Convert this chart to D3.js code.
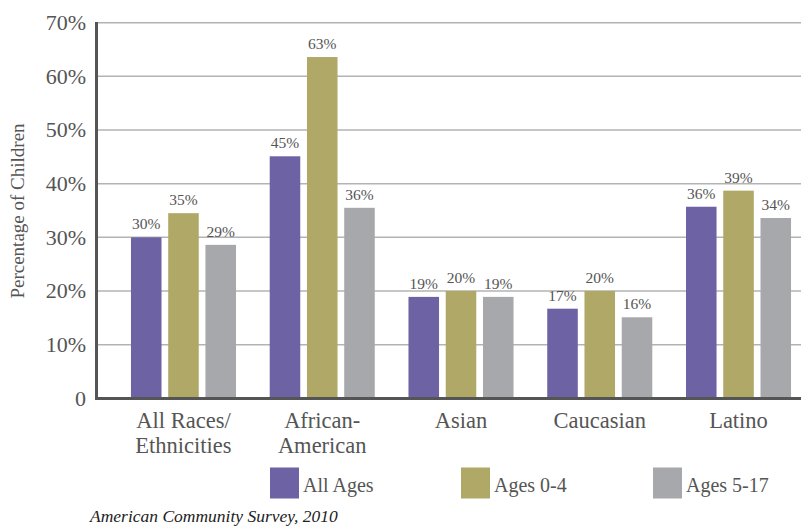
<!DOCTYPE html>
<html><head><meta charset="utf-8">
<script src="https://cdn.jsdelivr.net/npm/d3@7"></script>
<style>body{margin:0;background:#fff}svg{display:block}</style>
</head><body>
<svg id="c" width="801" height="527"></svg>
<script>
const categories = [["All Races/","Ethnicities"],["African-","American"],["Asian"],["Caucasian"],["Latino"]];
const series = ["All Ages","Ages 0-4","Ages 5-17"];
const allAges  = [30, 45.1, 18.9, 16.7, 35.7];
const ages0to4 = [34.5, 63.6, 20, 20, 38.7];
const ages5to17 = [28.6, 35.5, 18.9, 15.1, 33.6];
const labelsAll = ["30%","45%","19%","17%","36%"];
const labels04 = ["35%","63%","20%","20%","39%"];
const labels517 = ["29%","36%","19%","16%","34%"];
const yTicks = [0,10,20,30,40,50,60,70];
const colors = ["#6c62a4","#b0a867","#a7a8ab"];

const values = [allAges, ages0to4, ages5to17];
const labels = [labelsAll, labels04, labels517];
const catKeys = categories.map(c => c.join(" "));
const FONT = "Liberation Serif, DejaVu Serif, serif";

const svg = d3.select("#c");
const y = d3.scaleLinear().domain([0,70]).range([398.3,22.7]);
const x0 = d3.scaleBand().domain(catKeys).range([114.1,807.9]).paddingInner(0.243).paddingOuter(0.1215);
const x1 = d3.scaleBand().domain(series).range([0,x0.bandwidth()]).paddingInner(0.18);

function txt(sel){ return sel.style("font-family",FONT).attr("fill","#555"); }

// gridlines
svg.append("g").selectAll("line").data(yTicks.filter(d=>d>0)).join("line")
  .attr("x1",97).attr("x2",801).attr("y1",d=>y(d)).attr("y2",d=>y(d))
  .attr("stroke","#b3b3b3").attr("stroke-width",1.5);

// y tick labels
txt(svg.append("g").selectAll("text").data(yTicks).join("text"))
  .attr("x",86).attr("y",d=>y(d)).attr("dy","0.33em").attr("text-anchor","end")
  .attr("font-size",22).text(d=>d===0?"0":d+"%");

// bars
const groups = svg.append("g").selectAll("g").data(catKeys).join("g")
  .attr("transform",d=>`translate(${x0(d)},0)`);
groups.each(function(cat,i){
  const g = d3.select(this);
  series.forEach((s,j)=>{
    const v = values[j][i];
    g.append("rect").attr("x",x1(s)).attr("width",x1.bandwidth())
      .attr("y",y(v)).attr("height",y(0)-y(v)).attr("fill",colors[j]);
    txt(g.append("text")).attr("x",x1(s)+x1.bandwidth()/2).attr("y",y(v)-8)
      .attr("text-anchor","middle").attr("font-size",15.5).text(labels[j][i]);
  });
});

// axes lines
svg.append("line").attr("x1",96.5).attr("x2",96.5).attr("y1",22).attr("y2",400)
  .attr("stroke","#555").attr("stroke-width",3);
svg.append("line").attr("x1",95).attr("x2",801).attr("y1",398.5).attr("y2",398.5)
  .attr("stroke","#555").attr("stroke-width",3);

// category labels
categories.forEach((c,i)=>{
  const cx = x0(catKeys[i])+x0.bandwidth()/2;
  const t = txt(svg.append("text")).attr("text-anchor","middle")
    .attr("x",cx).attr("y",428).attr("font-size",22.5);
  c.forEach((line,k)=>t.append("tspan").attr("x",cx).attr("dy",k?25:0).text(line));
});

// y title
txt(svg.append("text")).attr("transform","translate(24,211) rotate(-90)").attr("text-anchor","middle")
  .attr("font-size",19).text("Percentage of Children");

// legend
const legX = [270,461,653];
series.forEach((s,j)=>{
  svg.append("rect").attr("x",legX[j]).attr("y",467.5).attr("width",29).attr("height",31).attr("fill",colors[j]);
  txt(svg.append("text")).attr("x",legX[j]+33).attr("y",491.5).attr("font-size",20).text(s);
});

// source
txt(svg.append("text")).attr("x",90).attr("y",521.5).attr("font-size",17.5).attr("font-style","italic")
  .attr("fill","#222").text("American Community Survey, 2010");
</script>
</body></html>
